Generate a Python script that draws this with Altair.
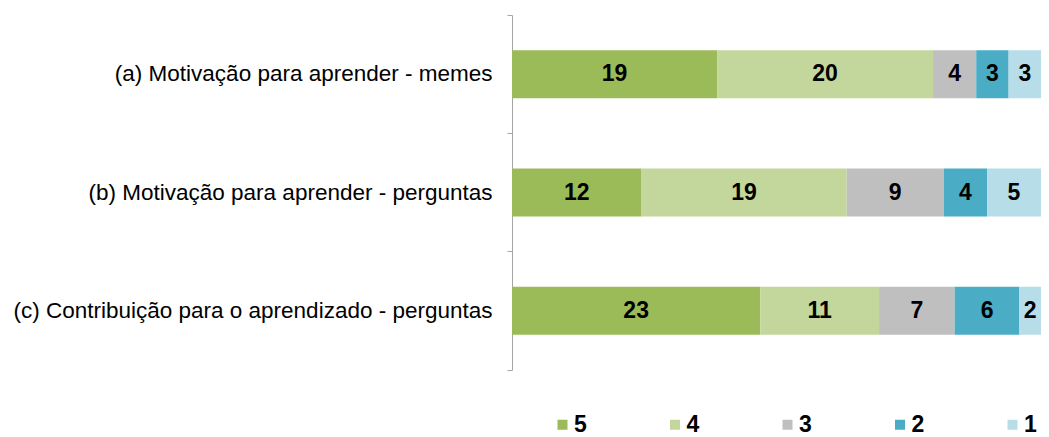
import altair as alt
import pandas as pd

categories = [
    "(a) Motivação para aprender - memes",
    "(b) Motivação para aprender - perguntas",
    "(c) Contribuição para o aprendizado - perguntas",
]
levels = ["5", "4", "3", "2", "1"]
v5 = [19, 12, 23]
v4 = [20, 19, 11]
v3 = [4, 9, 7]
v2 = [3, 4, 6]
v1 = [3, 5, 2]
colors = ["#9BBB59", "#C3D69B", "#BFBFBF", "#4BACC6", "#B7DEE8"]

series = [v5, v4, v3, v2, v1]
rows = []
for li, (lev, vals) in enumerate(zip(levels, series)):
    for ci, cat in enumerate(categories):
        rows.append({"q": cat, "nivel": lev, "ord": li, "v": vals[ci]})
df = pd.DataFrame(rows)

FONT = "Liberation Sans"

base = alt.Chart(df).transform_stack(
    stack="v", groupby=["q"], sort=[alt.SortField("ord", order="ascending")], as_=["x0", "x1"]
).transform_calculate(mid="(datum.x0 + datum.x1) / 2")

yenc = alt.Y(
    "q:N",
    sort=categories,
    title=None,
    scale=alt.Scale(paddingInner=0, paddingOuter=0),
    axis=alt.Axis(
        bandPosition=1,
        tickExtra=True,
        tickSize=5,
        labelPadding=15,
        labelFont=FONT,
        labelFontSize=22.5,
        labelColor="#000000",
        labelLimit=600,
        domainColor="#A6A6A6",
        tickColor="#A6A6A6",
        grid=False,
    ),
)

xscale = alt.Scale(domain=[0, 49], nice=False, zero=True)

bars = base.mark_bar(size=48).encode(
    y=yenc,
    x=alt.X("x0:Q", scale=xscale, axis=None),
    x2="x1:Q",
    color=alt.Color(
        "nivel:N",
        sort=levels,
        scale=alt.Scale(domain=levels, range=colors),
        legend=alt.Legend(
            title=None,
            orient="none",
            legendX=39,
            legendY=398,
            direction="horizontal",
            columns=5,
            columnPadding=76.5,
            symbolType="square",
            symbolSize=100,
            symbolStrokeWidth=0,
            labelFont=FONT,
            labelFontSize=23,
            labelFontWeight="bold",
            labelColor="#000000",
            labelOffset=0,
            padding=0,
        ),
    ),
)

texts = base.mark_text(font=FONT, fontSize=23, fontWeight="bold", color="#000000").encode(
    y=alt.Y("q:N", sort=categories),
    x=alt.X("mid:Q", scale=xscale),
    text="v:Q",
)

chart = (
    alt.layer(bars, texts)
    .properties(
        width=529,
        height=355,
        autosize=alt.AutoSizeParams(type="none"),
        padding={"left": 504, "top": 7, "right": 0, "bottom": 90},
    )
    .configure_view(stroke=None)
)

chart.save("out.html", embed_options={"renderer": "svg", "actions": False})
